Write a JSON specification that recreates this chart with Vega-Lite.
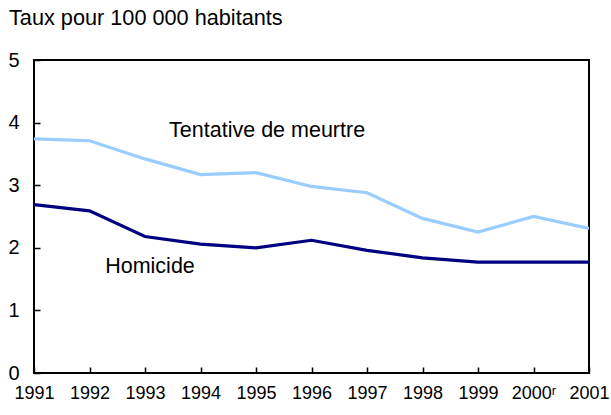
{
  "$schema": "https://vega.github.io/schema/vega-lite/v6.json",
  "width": 555,
  "height": 313,
  "autosize": "none",
  "padding": {"left": 34, "top": 60, "right": 22, "bottom": 42},
  "background": "white",
  "config": {
    "view": {"stroke": "black", "strokeWidth": 2},
    "font": "Liberation Sans"
  },
  "title": {
    "text": "Taux pour 100 000 habitants",
    "anchor": "start",
    "frame": "group",
    "dx": -25,
    "offset": 3,
    "baseline": "alphabetic",
    "fontSize": 21.7,
    "fontWeight": "normal",
    "font": "Liberation Sans",
    "color": "black"
  },
  "datasets": {
    "series": [
      {"year": 1991, "serie": "Tentative de meurtre", "taux": 3.74},
      {"year": 1992, "serie": "Tentative de meurtre", "taux": 3.71},
      {"year": 1993, "serie": "Tentative de meurtre", "taux": 3.42},
      {"year": 1994, "serie": "Tentative de meurtre", "taux": 3.17},
      {"year": 1995, "serie": "Tentative de meurtre", "taux": 3.20},
      {"year": 1996, "serie": "Tentative de meurtre", "taux": 2.98},
      {"year": 1997, "serie": "Tentative de meurtre", "taux": 2.88},
      {"year": 1998, "serie": "Tentative de meurtre", "taux": 2.47},
      {"year": 1999, "serie": "Tentative de meurtre", "taux": 2.25},
      {"year": 2000, "serie": "Tentative de meurtre", "taux": 2.50},
      {"year": 2001, "serie": "Tentative de meurtre", "taux": 2.31},
      {"year": 1991, "serie": "Homicide", "taux": 2.69},
      {"year": 1992, "serie": "Homicide", "taux": 2.59},
      {"year": 1993, "serie": "Homicide", "taux": 2.18},
      {"year": 1994, "serie": "Homicide", "taux": 2.06},
      {"year": 1995, "serie": "Homicide", "taux": 2.00},
      {"year": 1996, "serie": "Homicide", "taux": 2.12},
      {"year": 1997, "serie": "Homicide", "taux": 1.96},
      {"year": 1998, "serie": "Homicide", "taux": 1.84},
      {"year": 1999, "serie": "Homicide", "taux": 1.77},
      {"year": 2000, "serie": "Homicide", "taux": 1.77},
      {"year": 2001, "serie": "Homicide", "taux": 1.77}
    ],
    "labels": [
      {"year": 1995.2, "taux": 3.87, "label": "Tentative de meurtre"},
      {"year": 1993.09, "taux": 1.69, "label": "Homicide"}
    ]
  },
  "layer": [
    {
      "data": {"name": "series"},
      "mark": {"type": "line", "strokeWidth": 3.2, "clip": true},
      "encoding": {
        "x": {
          "field": "year", "type": "quantitative",
          "scale": {"domain": [1991, 2001], "nice": false, "zero": false},
          "axis": {
            "values": [1991, 1992, 1993, 1994, 1995, 1996, 1997, 1998, 1999, 2000, 2001],
            "format": "d",
            "labelExpr": "datum.value == 2000 ? '2000ʳ' : datum.label",
            "title": null,
            "grid": false,
            "domain": false,
            "ticks": true,
            "tickSize": -6,
            "tickColor": "black",
            "tickWidth": 1.5,
            "labelFont": "Liberation Sans",
            "labelFontSize": 18,
            "labelColor": "black",
            "labelPadding": 17,
            "labelOverlap": false,
            "labelFlush": false
          }
        },
        "y": {
          "field": "taux", "type": "quantitative",
          "scale": {"domain": [0, 5], "nice": false},
          "axis": {
            "values": [0, 1, 2, 3, 4, 5],
            "format": "d",
            "title": null,
            "grid": false,
            "domain": false,
            "tickSize": -6,
            "tickColor": "black",
            "tickWidth": 1.5,
            "labelFont": "Liberation Sans",
            "labelFontSize": 20,
            "labelColor": "black",
            "labelPadding": 21,
            "labelAlign": "right",
            "labelBaseline": "middle",
            "labelOverlap": false
          }
        },
        "color": {
          "field": "serie", "type": "nominal",
          "scale": {"domain": ["Tentative de meurtre", "Homicide"], "range": ["#99CCFF", "#000080"]},
          "legend": null
        }
      }
    },
    {
      "data": {"name": "labels"},
      "mark": {"type": "text", "fontSize": 21.5, "font": "Liberation Sans", "color": "black", "align": "center", "baseline": "middle"},
      "encoding": {
        "x": {"field": "year", "type": "quantitative"},
        "y": {"field": "taux", "type": "quantitative"},
        "text": {"field": "label"}
      }
    }
  ]
}
